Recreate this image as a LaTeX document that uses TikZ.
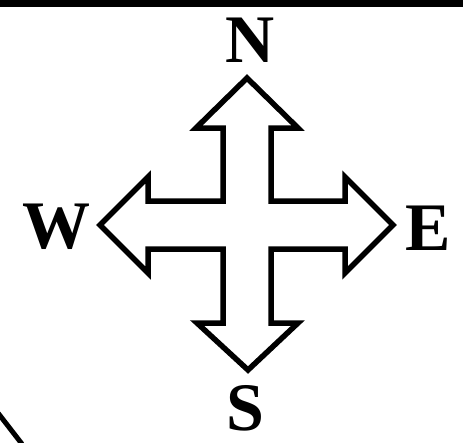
\documentclass[tikz,border=0pt]{standalone}
\usepackage{fontspec}
\setmainfont{Liberation Serif}
\begin{document}
\begin{tikzpicture}[x=1pt, y=-1pt, line join=miter, font=\bfseries\fontsize{68}{68}\selectfont]
	\useasboundingbox (0,0) rectangle (463,442);
	
	% Khung viền phía trên và góc dưới
	\fill[black] (0,0) rectangle (463,7);
	\draw[line width=5pt] (-2,413) -- (22,444);
	
	% Định nghĩa tâm và các mũi
	\coordinate (O) at (247,225);
	\coordinate (N) at (247,78);
	\coordinate (S) at (248,370);
	\coordinate (E) at (393,225);
	\coordinate (W) at (100,225);
	
	% Vẽ hoa gió
	\draw[line width=5.5pt]
		(N) -- (298,128) -- (271,128) -- (271,201) -- (345,201) -- (345,177)
		-- (E) -- (345,273) -- (345,249) -- (271,249) -- (271,323) -- (298,323)
		-- (S) -- (197,323) -- (223,323) -- (223,249) -- (148,249) -- (148,273)
		-- (W) -- (148,177) -- (148,201) -- (223,201) -- (223,128) -- (196,128)
		-- cycle;
	
	% Nhãn các hướng
	\node[anchor=base, inner sep=0pt] (lN) at (250,62) {N};
	\node[anchor=base, inner sep=0pt] (lS) at (245,430) {S};
	\node[anchor=base, inner sep=0pt] (lE) at (428,250) {E};
	\node[anchor=base, inner sep=0pt] (lW) at (57,248) {W};
\end{tikzpicture}
\end{document}
